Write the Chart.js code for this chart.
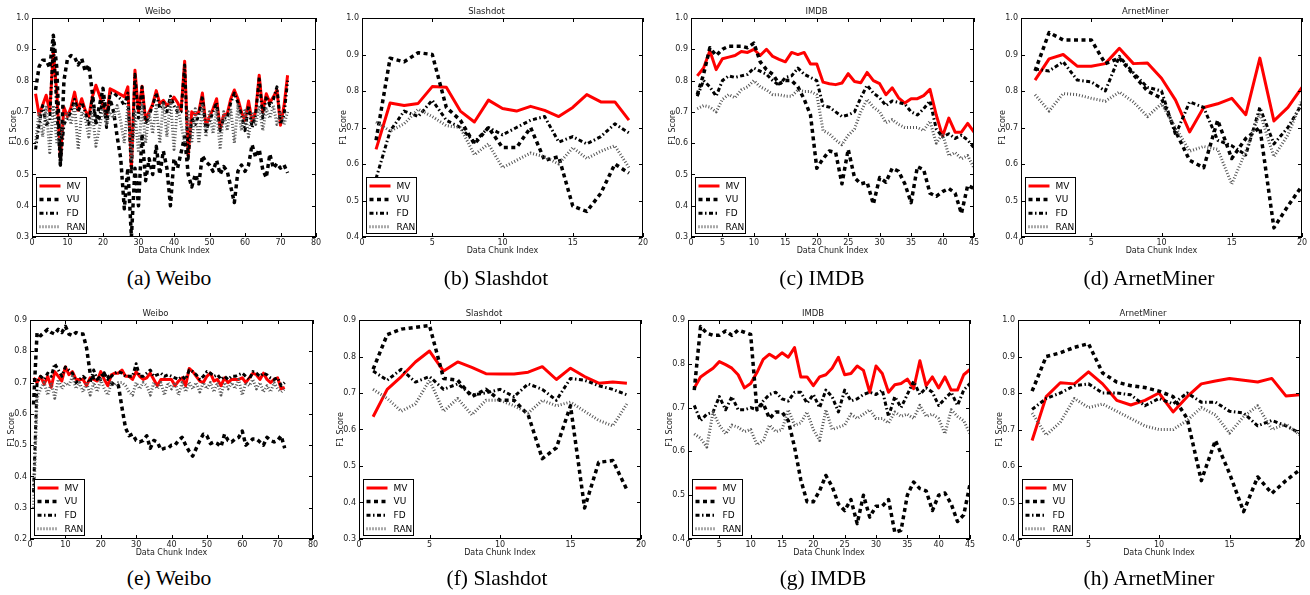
<!DOCTYPE html>
<html>
<head>
<meta charset="utf-8">
<script src="https://cdn.jsdelivr.net/npm/chart.js@4/dist/chart.umd.min.js"></script>
<style>
  body { margin: 0; background: #fff; width: 1310px; height: 595px; position: relative; overflow: hidden; }
  canvas { position: absolute; }
  .cap { position: absolute; font-family: "Liberation Serif", "Times New Roman", serif; font-size: 21.5px; color: #000;
         transform: translate(-50%, -50%); white-space: nowrap; }
</style>
</head>
<body>
<script>
// ---- data (index 1..n along "Data Chunk Index") ----
const weiboA_MV = [0.758,0.69,0.722,0.753,0.70,0.89,0.76,0.55,0.715,0.685,
  0.715,0.763,0.705,0.742,0.705,0.685,0.748,0.785,0.753,0.72,
  0.685,0.774,0.768,0.762,0.755,0.748,0.78,0.52,0.833,0.70,
  0.782,0.675,0.70,0.725,0.768,0.726,0.737,0.72,0.73,0.747,
  0.73,0.705,0.862,0.56,0.70,0.69,0.70,0.76,0.657,0.684,
  0.71,0.742,0.646,0.69,0.694,0.742,0.77,0.742,0.70,0.673,
  0.735,0.668,0.70,0.817,0.70,0.758,0.73,0.748,0.77,0.657,
  0.72,0.817];
const weiboA_VU = [0.77,0.845,0.865,0.865,0.84,0.945,0.84,0.53,0.80,0.87,
  0.88,0.875,0.85,0.87,0.83,0.85,0.76,0.665,0.72,0.775,
  0.68,0.74,0.70,0.62,0.55,0.39,0.52,0.30,0.52,0.40,
  0.63,0.48,0.55,0.50,0.59,0.50,0.575,0.52,0.40,0.55,
  0.52,0.57,0.62,0.50,0.46,0.50,0.47,0.56,0.54,0.53,
  0.51,0.545,0.50,0.525,0.51,0.46,0.41,0.51,0.53,0.51,
  0.53,0.595,0.555,0.58,0.515,0.49,0.565,0.52,0.535,0.52,
  0.53,0.505];
const weiboA_FD = [0.58,0.66,0.72,0.66,0.67,0.93,0.70,0.53,0.66,0.68,
  0.70,0.74,0.70,0.73,0.70,0.66,0.75,0.66,0.68,0.75,
  0.65,0.76,0.76,0.75,0.74,0.72,0.76,0.50,0.82,0.68,
  0.78,0.66,0.69,0.72,0.76,0.71,0.73,0.70,0.75,0.72,
  0.70,0.70,0.85,0.55,0.68,0.66,0.69,0.75,0.64,0.67,
  0.70,0.73,0.64,0.68,0.68,0.73,0.76,0.73,0.69,0.64,
  0.72,0.65,0.69,0.81,0.68,0.75,0.72,0.74,0.78,0.66,
  0.69,0.80];
const weiboA_RAN = [0.60,0.70,0.62,0.72,0.57,0.72,0.60,0.62,0.66,0.70,
  0.66,0.72,0.58,0.70,0.68,0.62,0.70,0.59,0.65,0.71,
  0.66,0.70,0.68,0.72,0.67,0.60,0.72,0.55,0.70,0.57,
  0.72,0.60,0.70,0.63,0.72,0.60,0.73,0.62,0.74,0.58,
  0.72,0.66,0.60,0.70,0.60,0.71,0.60,0.72,0.62,0.70,
  0.63,0.71,0.58,0.70,0.64,0.71,0.60,0.72,0.64,0.71,
  0.62,0.70,0.66,0.72,0.64,0.71,0.68,0.72,0.66,0.70,
  0.66,0.70];

const slashB_MV = [0.64,0.767,0.76,0.766,0.812,0.81,0.745,0.715,0.775,0.752,0.745,0.758,0.747,0.73,0.755,0.79,0.77,0.77,0.72];
const slashB_VU = [0.665,0.89,0.88,0.905,0.90,0.755,0.72,0.655,0.70,0.645,0.645,0.70,0.61,0.62,0.485,0.47,0.52,0.60,0.575];
const slashB_FD = [0.56,0.69,0.745,0.73,0.775,0.72,0.70,0.66,0.70,0.68,0.70,0.72,0.73,0.66,0.675,0.655,0.675,0.71,0.685];
const slashB_RAN = [0.715,0.69,0.71,0.75,0.73,0.705,0.70,0.625,0.655,0.59,0.61,0.63,0.62,0.60,0.645,0.615,0.635,0.65,0.59];

const imdbC_MV = [0.815,0.84,0.895,0.835,0.87,0.875,0.88,0.893,0.89,0.90,
  0.88,0.90,0.877,0.868,0.86,0.89,0.883,0.89,0.853,0.853,
  0.795,0.79,0.787,0.792,0.822,0.797,0.793,0.826,0.80,0.79,
  0.755,0.777,0.745,0.728,0.742,0.742,0.752,0.772,0.69,0.622,
  0.68,0.635,0.635,0.663,0.635];
const imdbC_VU = [0.755,0.82,0.905,0.88,0.90,0.91,0.91,0.91,0.905,0.92,
  0.86,0.835,0.82,0.79,0.80,0.80,0.78,0.74,0.69,0.52,
  0.55,0.575,0.57,0.47,0.58,0.49,0.47,0.475,0.405,0.49,
  0.475,0.52,0.51,0.47,0.41,0.525,0.515,0.44,0.43,0.445,
  0.455,0.44,0.375,0.465,0.455];
const imdbC_FD = [0.75,0.80,0.78,0.75,0.80,0.815,0.81,0.815,0.82,0.84,
  0.83,0.82,0.80,0.785,0.81,0.815,0.84,0.82,0.81,0.80,
  0.72,0.715,0.70,0.685,0.69,0.70,0.745,0.785,0.76,0.745,
  0.72,0.735,0.73,0.725,0.70,0.69,0.71,0.735,0.645,0.62,
  0.63,0.615,0.625,0.61,0.585];
const imdbC_RAN = [0.71,0.72,0.715,0.70,0.74,0.755,0.745,0.77,0.78,0.80,
  0.78,0.77,0.755,0.755,0.75,0.75,0.77,0.765,0.765,0.755,
  0.64,0.63,0.61,0.595,0.625,0.645,0.70,0.74,0.715,0.70,
  0.665,0.675,0.66,0.65,0.65,0.65,0.64,0.67,0.60,0.63,
  0.56,0.57,0.55,0.56,0.52];

const arnetD_MV = [0.83,0.888,0.90,0.868,0.868,0.875,0.917,0.875,0.877,0.835,0.775,0.688,0.755,0.765,0.78,0.735,0.89,0.718,0.755,0.81];
const arnetD_VU = [0.855,0.96,0.94,0.94,0.94,0.875,0.89,0.845,0.80,0.78,0.69,0.61,0.59,0.72,0.615,0.67,0.70,0.425,0.485,0.54];
const arnetD_FD = [0.86,0.855,0.88,0.83,0.825,0.80,0.895,0.85,0.81,0.80,0.68,0.77,0.755,0.665,0.65,0.625,0.755,0.655,0.70,0.765];
const arnetD_RAN = [0.79,0.745,0.793,0.79,0.78,0.772,0.797,0.77,0.73,0.765,0.70,0.635,0.648,0.64,0.545,0.635,0.74,0.62,0.68,0.775];

const weiboE_MV = [0.715,0.70,0.72,0.695,0.72,0.685,0.735,0.72,0.705,0.75,
  0.725,0.735,0.71,0.71,0.71,0.69,0.715,0.71,0.705,0.735,
  0.71,0.69,0.725,0.73,0.73,0.74,0.72,0.72,0.71,0.735,
  0.72,0.71,0.715,0.73,0.71,0.69,0.71,0.71,0.71,0.71,
  0.69,0.705,0.715,0.69,0.745,0.735,0.72,0.705,0.70,0.72,
  0.73,0.705,0.71,0.69,0.715,0.70,0.71,0.71,0.71,0.715,
  0.70,0.715,0.73,0.725,0.71,0.73,0.71,0.70,0.71,0.715,
  0.68,0.685];
const weiboE_VU = [0.63,0.86,0.85,0.86,0.87,0.86,0.855,0.87,0.86,0.88,
  0.855,0.85,0.86,0.855,0.855,0.81,0.73,0.715,0.72,0.71,
  0.73,0.72,0.70,0.69,0.69,0.62,0.555,0.53,0.535,0.515,
  0.51,0.515,0.53,0.49,0.515,0.51,0.485,0.49,0.49,0.50,
  0.50,0.515,0.525,0.50,0.48,0.465,0.49,0.515,0.535,0.53,
  0.505,0.51,0.505,0.495,0.535,0.515,0.51,0.52,0.525,0.545,
  0.50,0.51,0.52,0.52,0.51,0.50,0.525,0.515,0.51,0.515,
  0.53,0.49];
const weiboE_FD = [0.35,0.70,0.72,0.71,0.73,0.72,0.76,0.74,0.72,0.75,
  0.74,0.73,0.70,0.71,0.72,0.71,0.70,0.74,0.71,0.72,
  0.73,0.71,0.72,0.73,0.735,0.73,0.72,0.72,0.72,0.76,
  0.72,0.72,0.73,0.74,0.72,0.725,0.73,0.72,0.725,0.72,
  0.715,0.71,0.72,0.71,0.74,0.735,0.725,0.71,0.72,0.735,
  0.73,0.72,0.725,0.71,0.72,0.71,0.72,0.72,0.725,0.73,
  0.72,0.71,0.735,0.73,0.72,0.73,0.725,0.715,0.71,0.715,
  0.69,0.70];
const weiboE_RAN = [0.30,0.65,0.68,0.70,0.66,0.70,0.65,0.71,0.68,0.70,
  0.69,0.72,0.68,0.70,0.67,0.70,0.66,0.70,0.67,0.71,
  0.68,0.66,0.70,0.69,0.70,0.70,0.69,0.67,0.66,0.70,
  0.68,0.70,0.69,0.66,0.70,0.68,0.70,0.66,0.70,0.68,
  0.70,0.66,0.70,0.67,0.70,0.68,0.70,0.67,0.70,0.68,
  0.70,0.67,0.70,0.66,0.70,0.68,0.70,0.68,0.71,0.66,
  0.70,0.69,0.71,0.68,0.70,0.67,0.69,0.67,0.70,0.68,
  0.67,0.68];

const slashF_MV = [0.635,0.71,0.745,0.785,0.815,0.76,0.785,0.77,0.753,0.752,0.752,0.757,0.772,0.737,0.768,0.745,0.727,0.73,0.727];
const slashF_VU = [0.765,0.86,0.875,0.88,0.885,0.74,0.735,0.69,0.71,0.68,0.68,0.64,0.52,0.55,0.665,0.385,0.51,0.515,0.435];
const slashF_FD = [0.76,0.735,0.765,0.73,0.745,0.71,0.725,0.695,0.70,0.71,0.69,0.725,0.71,0.68,0.74,0.735,0.72,0.71,0.695];
const slashF_RAN = [0.71,0.685,0.65,0.67,0.735,0.65,0.685,0.64,0.68,0.68,0.665,0.645,0.68,0.665,0.675,0.65,0.625,0.61,0.67];

const imdbG_MV = [0.745,0.77,0.78,0.79,0.805,0.798,0.79,0.775,0.745,0.755,
  0.78,0.81,0.822,0.813,0.825,0.815,0.837,0.77,0.77,0.75,
  0.77,0.775,0.79,0.815,0.775,0.778,0.795,0.785,0.735,0.795,
  0.778,0.735,0.752,0.755,0.765,0.743,0.807,0.75,0.77,0.745,
  0.77,0.74,0.74,0.775,0.787];
const imdbG_VU = [0.74,0.885,0.87,0.865,0.865,0.875,0.865,0.877,0.872,0.867,
  0.695,0.71,0.675,0.69,0.69,0.67,0.61,0.535,0.485,0.485,
  0.51,0.545,0.52,0.48,0.465,0.49,0.435,0.50,0.45,0.475,
  0.475,0.49,0.415,0.42,0.50,0.53,0.515,0.51,0.465,0.50,
  0.505,0.48,0.44,0.455,0.525];
const imdbG_FD = [0.705,0.67,0.685,0.69,0.725,0.695,0.725,0.695,0.695,0.70,
  0.695,0.715,0.73,0.735,0.72,0.715,0.735,0.735,0.71,0.73,
  0.70,0.74,0.725,0.69,0.74,0.715,0.72,0.73,0.735,0.73,
  0.74,0.68,0.725,0.70,0.73,0.76,0.73,0.745,0.735,0.705,
  0.72,0.735,0.705,0.74,0.755];
const imdbG_RAN = [0.64,0.63,0.61,0.69,0.66,0.64,0.66,0.655,0.645,0.65,
  0.615,0.625,0.66,0.645,0.65,0.695,0.66,0.665,0.69,0.65,
  0.625,0.695,0.65,0.655,0.66,0.685,0.675,0.685,0.695,0.675,
  0.675,0.665,0.69,0.68,0.685,0.675,0.705,0.68,0.685,0.675,
  0.64,0.695,0.68,0.67,0.64];

const arnetH_MV = [0.67,0.79,0.828,0.825,0.858,0.825,0.78,0.767,0.78,0.80,0.748,0.79,0.825,0.833,0.84,0.835,0.83,0.84,0.792,0.795];
const arnetH_VU = [0.805,0.90,0.91,0.925,0.935,0.855,0.83,0.82,0.815,0.805,0.79,0.73,0.56,0.67,0.58,0.475,0.57,0.525,0.56,0.59];
const arnetH_FD = [0.755,0.785,0.80,0.82,0.825,0.80,0.80,0.795,0.765,0.785,0.77,0.80,0.775,0.775,0.75,0.745,0.71,0.725,0.71,0.69];
const arnetH_RAN = [0.745,0.685,0.72,0.785,0.76,0.77,0.75,0.73,0.71,0.70,0.70,0.725,0.76,0.74,0.69,0.735,0.765,0.70,0.715,0.685];

const seriesNames = ["MV", "VU", "FD", "RAN"];

// ---- panel placement (plot box in page px) ----
const panels = [
  { title: "Weibo", cap: "(a) Weibo", L: 32, T: 18, W: 284, H: 219, xMax: 80, xStep: 10, yMin: 0.3, yMax: 1.0,
    series: [weiboA_MV, weiboA_VU, weiboA_FD, weiboA_RAN], capX: 169, capY: 278 },
  { title: "Slashdot", cap: "(b) Slashdot", L: 362, T: 18, W: 281, H: 219, xMax: 20, xStep: 5, yMin: 0.4, yMax: 1.0,
    series: [slashB_MV, slashB_VU, slashB_FD, slashB_RAN], capX: 496, capY: 278 },
  { title: "IMDB", cap: "(c) IMDB", L: 691, T: 18, W: 283, H: 219, xMax: 45, xStep: 5, yMin: 0.3, yMax: 1.0,
    series: [imdbC_MV, imdbC_VU, imdbC_FD, imdbC_RAN], capX: 822, capY: 278 },
  { title: "ArnetMiner", cap: "(d) ArnetMiner", L: 1021, T: 18, W: 281, H: 219, xMax: 20, xStep: 5, yMin: 0.4, yMax: 1.0,
    series: [arnetD_MV, arnetD_VU, arnetD_FD, arnetD_RAN], capX: 1149, capY: 278 },
  { title: "Weibo", cap: "(e) Weibo", L: 30, T: 320, W: 283, H: 219, xMax: 80, xStep: 10, yMin: 0.2, yMax: 0.9,
    series: [weiboE_MV, weiboE_VU, weiboE_FD, weiboE_RAN], capX: 169, capY: 578 },
  { title: "Slashdot", cap: "(f) Slashdot", L: 359, T: 320, W: 282, H: 219, xMax: 20, xStep: 5, yMin: 0.3, yMax: 0.9,
    series: [slashF_MV, slashF_VU, slashF_FD, slashF_RAN], capX: 497, capY: 578 },
  { title: "IMDB", cap: "(g) IMDB", L: 688, T: 320, W: 282, H: 219, xMax: 45, xStep: 5, yMin: 0.4, yMax: 0.9,
    series: [imdbG_MV, imdbG_VU, imdbG_FD, imdbG_RAN], capX: 823, capY: 578 },
  { title: "ArnetMiner", cap: "(h) ArnetMiner", L: 1018, T: 320, W: 282, H: 219, xMax: 20, xStep: 5, yMin: 0.4, yMax: 1.0,
    series: [arnetH_MV, arnetH_VU, arnetH_FD, arnetH_RAN], capX: 1149, capY: 578 },
];

const styles = [
  { borderColor: "#ff0000", borderWidth: 3, borderDash: [], order: 4 },
  { borderColor: "#000000", borderWidth: 3.5, borderDash: [4, 3.5], order: 3 },
  { borderColor: "#000000", borderWidth: 3, borderDash: [4, 2.5, 1.5, 2.5], order: 2 },
  { borderColor: "#555555", borderWidth: 3, borderDash: [1, 2], order: 1 },
];

const PAD_L = 32, PAD_R = 32, PAD_T = 17, PAD_B = 19;
const FONT = "DejaVu Sans";
Chart.defaults.font.family = FONT;
Chart.defaults.color = "#222";

// frame around the axes with inward tick marks on all four sides
const framePlugin = {
  id: "frame",
  afterDatasetsDraw(chart) {
    const { ctx, chartArea: a, scales: { x, y } } = chart;
    ctx.save();
    ctx.strokeStyle = "#000";
    ctx.lineWidth = 1;
    ctx.setLineDash([]);
    ctx.strokeRect(a.left + 0.5, a.top + 0.5, a.width - 1, a.height - 1);
    ctx.beginPath();
    x.ticks.forEach(t => {
      const px = Math.round(x.getPixelForValue(t.value)) + 0.5;
      ctx.moveTo(px, a.bottom); ctx.lineTo(px, a.bottom - 4);
      ctx.moveTo(px, a.top); ctx.lineTo(px, a.top + 4);
    });
    y.ticks.forEach(t => {
      const py = Math.round(y.getPixelForValue(t.value)) + 0.5;
      ctx.moveTo(a.left, py); ctx.lineTo(a.left + 4, py);
      ctx.moveTo(a.right, py); ctx.lineTo(a.right - 4, py);
    });
    ctx.stroke();
    ctx.restore();
  }
};

// legend box in the lower-left corner of the plot
const boxLegend = {
  id: "boxLegend",
  afterDraw(chart) {
    const { ctx, chartArea: a } = chart;
    const bw = 50, bh = 56;
    const bx = Math.round(a.left + 4) + 0.5, by = Math.round(a.bottom - 4 - bh) + 0.5;
    ctx.save();
    ctx.fillStyle = "#fff";
    ctx.fillRect(bx, by, bw, bh);
    ctx.strokeStyle = "#000";
    ctx.lineWidth = 1;
    ctx.strokeRect(bx, by, bw, bh);
    chart.data.datasets.forEach((ds, i) => {
      const yy = by + 8.5 + i * 13.6;
      ctx.beginPath();
      ctx.setLineDash(ds.borderDash);
      ctx.lineWidth = ds.borderWidth;
      ctx.strokeStyle = ds.borderColor;
      ctx.lineCap = "butt";
      ctx.moveTo(bx + 3, yy);
      ctx.lineTo(bx + 24, yy);
      ctx.stroke();
      ctx.setLineDash([]);
      ctx.fillStyle = "#000";
      ctx.font = `9px "${FONT}"`;
      ctx.textBaseline = "middle";
      ctx.fillText(ds.label, bx + 30, yy + 0.5);
    });
    ctx.restore();
  }
};

panels.forEach(p => {
  const cv = document.createElement("canvas");
  const cw = p.W + PAD_L + PAD_R, ch = p.H + PAD_T + PAD_B;
  cv.width = cw; cv.height = ch;
  cv.style.width = cw + "px"; cv.style.height = ch + "px";
  cv.style.left = (p.L - PAD_L) + "px";
  cv.style.top = (p.T - PAD_T) + "px";
  document.body.appendChild(cv);

  const datasets = p.series.map((vals, i) => ({
    label: seriesNames[i],
    data: vals.map((v, k) => ({ x: k + 1, y: v })),
    borderColor: styles[i].borderColor,
    borderWidth: styles[i].borderWidth,
    borderDash: styles[i].borderDash,
    borderCapStyle: "butt",
    borderJoinStyle: "round",
    order: styles[i].order,
    pointRadius: 0,
    tension: 0,
    fill: false,
  }));

  new Chart(cv, {
    type: "line",
    data: { datasets },
    plugins: [framePlugin, boxLegend],
    options: {
      responsive: false,
      animation: false,
      devicePixelRatio: 1,
      layout: { padding: { left: 0, right: PAD_R, top: 0, bottom: 0 } },
      plugins: {
        legend: { display: false },
        tooltip: { enabled: false },
        title: { display: true, text: p.title, color: "#222", font: { size: 8.5, weight: "normal" },
                 padding: { top: 5.2, bottom: 1.6 } },
      },
      scales: {
        x: {
          type: "linear", min: 0, max: p.xMax,
          ticks: { stepSize: p.xStep, font: { size: 8 }, padding: 1, maxRotation: 0, autoSkip: false },
          grid: { display: false, drawTicks: false },
          border: { display: false },
          title: { display: true, text: "Data Chunk Index", font: { size: 8 }, padding: 0 },
          afterFit: s => { s.height = PAD_B; },
        },
        y: {
          min: p.yMin, max: p.yMax,
          ticks: { stepSize: 0.1, font: { size: 8 }, padding: 3, callback: v => v.toFixed(1) },
          grid: { display: false, drawTicks: false },
          border: { display: false },
          title: { display: true, text: "F1 Score", font: { size: 8 }, padding: { top: 9, bottom: 0 } },
          afterFit: s => { s.width = PAD_L; },
        },
      },
    },
  });

  const cap = document.createElement("div");
  cap.className = "cap";
  cap.textContent = p.cap;
  cap.style.left = p.capX + "px";
  cap.style.top = p.capY + "px";
  document.body.appendChild(cap);
});
</script>
</body>
</html>
